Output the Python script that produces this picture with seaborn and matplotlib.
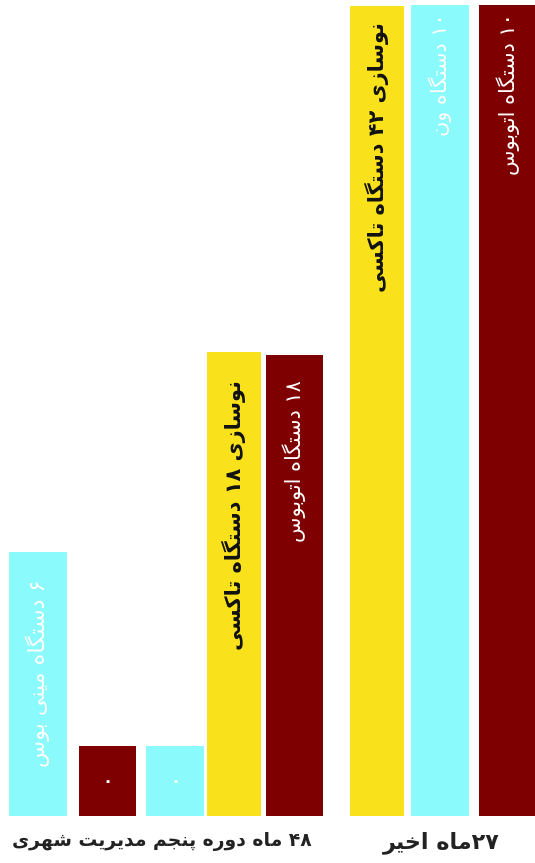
import re
import pandas as pd
import matplotlib
matplotlib.use("Agg")
import matplotlib.pyplot as plt
import seaborn as sns

# bars from left to right as they stand in the picture
bar_labels = [
    "۶ دستگاه مینی بوس",
    "۰",
    "۰",
    "نوسازی ۱۸ دستگاه تاکسی",
    "۱۸ دستگاه اتوبوس",
    "نوسازی ۴۲ دستگاه تاکسی",
    "۱۰ دستگاه ون",
    "۱۰ دستگاه اتوبوس",
]
bar_kind = ["van", "bus", "van", "taxi", "bus", "taxi", "van", "bus"]
bar_count = [6, 0, 0, 18, 18, 42, 10, 10]
# drawn heights (the infographic is not to scale)
bar_height = [32.6, 8.6, 8.6, 57.2, 56.8, 99.9, 100, 100]
group_labels = ["۴۸ ماه دوره پنجم مدیریت شهری", "۲۷ماه اخیر"]

# layout: bar centres in pixels, label gap under each bar top
bar_x = [38, 107.5, 175, 234, 294.5, 377, 440, 508]
label_pad = [28, 0, 0, 28, 25, 16, 8, 8]
taxi_width = 54

palette = {"taxi": "#f9e21b", "van": "#8afafc", "bus": "#7f0000"}
text_color = {"taxi": "#111111", "van": "white", "bus": "white"}

# matplotlib does no arabic shaping, so pick presentation forms by hand
FORMS = {
    "ا": ("\uFE8D", "\uFE8E"),
    "د": ("\uFEA9", "\uFEAA"),
    "ر": ("\uFEAD", "\uFEAE"),
    "ز": ("\uFEAF", "\uFEB0"),
    "و": ("\uFEED", "\uFEEE"),
    "ب": ("\uFE8F", "\uFE90", "\uFE91", "\uFE92"),
    "پ": ("\uFB56", "\uFB57", "\uFB58", "\uFB59"),
    "ت": ("\uFE95", "\uFE96", "\uFE97", "\uFE98"),
    "ج": ("\uFE9D", "\uFE9E", "\uFE9F", "\uFEA0"),
    "خ": ("\uFEA5", "\uFEA6", "\uFEA7", "\uFEA8"),
    "س": ("\uFEB1", "\uFEB2", "\uFEB3", "\uFEB4"),
    "ش": ("\uFEB5", "\uFEB6", "\uFEB7", "\uFEB8"),
    "\u06A9": ("\uFB8E", "\uFB8F", "\uFB90", "\uFB91"),
    "گ": ("\uFB92", "\uFB93", "\uFB94", "\uFB95"),
    "م": ("\uFEE1", "\uFEE2", "\uFEE3", "\uFEE4"),
    "ن": ("\uFEE5", "\uFEE6", "\uFEE7", "\uFEE8"),
    "ه": ("\uFEE9", "\uFEEA", "\uFEEB", "\uFEEC"),
    "\u06CC": ("\uFBFC", "\uFBFD", "\uFBFE", "\uFBFF"),
}


def shape(text):
    text = text.replace("\u064A", "\u06CC").replace("\u0643", "\u06A9")
    out = []
    for i, ch in enumerate(text):
        forms = FORMS.get(ch)
        if forms is None:
            out.append(ch)
            continue
        prev = text[i - 1] if i > 0 else ""
        nxt = text[i + 1] if i + 1 < len(text) else ""
        joins_prev = len(FORMS.get(prev, ())) == 4
        joins_next = len(forms) == 4 and nxt in FORMS
        if joins_prev and joins_next:
            out.append(forms[3])
        elif joins_prev:
            out.append(forms[1])
        elif joins_next:
            out.append(forms[2])
        else:
            out.append(forms[0])
    visual = "".join(out)[::-1]
    # numbers keep their left-to-right order
    return re.sub("[۰-۹]+", lambda m: m.group(0)[::-1], visual)


df = pd.DataFrame({"x": bar_x, "height": bar_height, "kind": bar_kind})

plt.rcParams["font.family"] = ["DejaVu Sans"]
fig = plt.figure(figsize=(5.35, 8.63), dpi=100)
ax = fig.add_axes([0, 1 - 816 / 863, 1, 811 / 863])

sns.barplot(
    data=df, x="x", y="height", hue="kind", palette=palette,
    native_scale=True, dodge=False, width=0.98, saturation=1,
    legend=False, ax=ax,
)
ax.set_xlim(0, 535)
ax.set_ylim(0, 100)
ax.set_axis_off()

# the taxi bars are a little narrower in the original
taxi_rgba = matplotlib.colors.to_rgba(palette["taxi"])
for patch in ax.patches:
    if patch.get_facecolor() == taxi_rgba:
        cx = patch.get_x() + patch.get_width() / 2
        patch.set_width(taxi_width)
        patch.set_x(cx - taxi_width / 2)

for x, h, kind, count, label, pad in zip(bar_x, bar_height, bar_kind,
                                         bar_count, bar_labels, label_pad):
    weight = "bold" if kind == "taxi" else "normal"
    if count == 0:
        ax.text(x, h / 2, shape(label), ha="center", va="center",
                color="white", fontsize=12, fontweight="bold")
        continue
    size = 16 if label.startswith("۶") else 15
    ax.annotate(shape(label), xy=(x, h), xytext=(0, -pad),
                textcoords="offset pixels", rotation=90,
                ha="center", va="top", color=text_color[kind],
                fontsize=size, fontweight=weight)

fig.text(162 / 535, 1 - 841 / 863, shape(group_labels[0]), ha="center",
         va="center", fontsize=13.5, fontweight="bold", color="#222222")
fig.text(441 / 535, 1 - 843 / 863, shape(group_labels[1]), ha="center",
         va="center", fontsize=16, fontweight="bold", color="#222222")

fig.savefig("out.png", dpi=100)
